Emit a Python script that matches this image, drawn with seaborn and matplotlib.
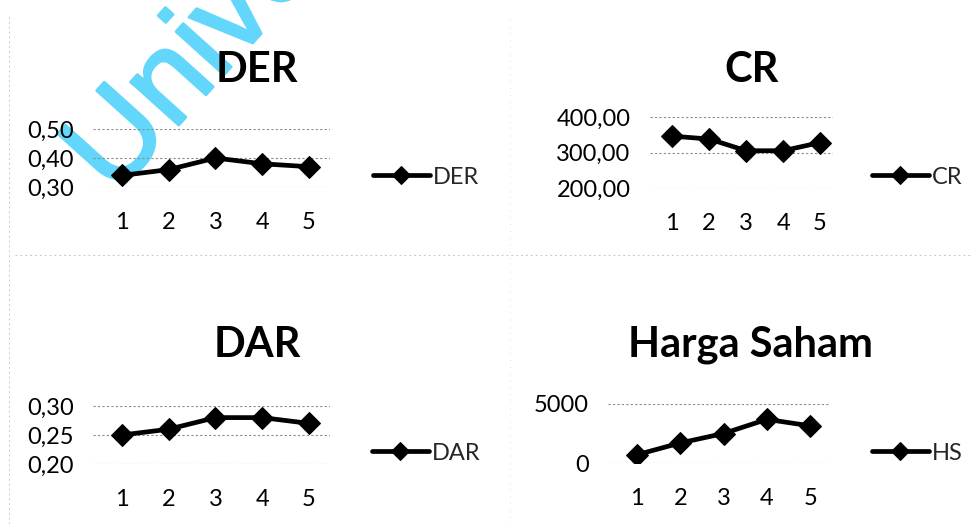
import matplotlib
matplotlib.use("Agg")
import matplotlib.pyplot as plt
import matplotlib.patheffects as pe
from matplotlib.ticker import FuncFormatter
import seaborn as sns
import pandas as pd

sns.set_theme(style="white")
plt.rcParams["font.family"] = ["Lato", "DejaVu Sans"]

# data per periode
periode = [1, 2, 3, 4, 5]
der = [0.34, 0.36, 0.40, 0.38, 0.37]
cr = [346, 338, 305, 305, 328]
dar = [0.25, 0.26, 0.28, 0.28, 0.27]
hs = [700, 1700, 2500, 3700, 3150]

W, H = 973, 524
fig = plt.figure(figsize=(W / 100, H / 100), dpi=100)
fig.patch.set_facecolor("white")


def px_axes(x0, x1, ytop, ybot):
    return fig.add_axes([x0 / W, 1 - ybot / H, (x1 - x0) / W, (ybot - ytop) / H])


def comma(nd):
    if nd == 0:
        return FuncFormatter(lambda v, p: f"{v:.0f}")
    return FuncFormatter(lambda v, p: f"{v:.{nd}f}".replace(".", ","))


panels = [
    # title, legend label, values, yticks, decimals, axes px box, xlim, title pos, legend pos
    ("DER", "DER", der, [0.30, 0.40, 0.50], 2, (93, 330, 129, 187), (0.38, 5.45), (257, 82), (373, 177)),
    ("CR", "CR", cr, [200, 300, 400], 2, (650, 833, 117, 188), (0.40, 5.35), (752, 82), (872, 177)),
    ("DAR", "DAR", dar, [0.20, 0.25, 0.30], 2, (93, 330, 406, 464), (0.38, 5.45), (257, 357), (372, 453)),
    ("Harga Saham", "HS", hs, [0, 5000], 0, (608, 830, 404, 463), (0.33, 5.46), (751, 357), (872, 453)),
]

for title, lab, vals, yt, nd, box, xl, tpos, lpos in panels:
    ax = px_axes(*box)
    ax.set_facecolor("none")
    df = pd.DataFrame({"periode": periode, "nilai": vals})
    sns.lineplot(data=df, x="periode", y="nilai", ax=ax, color="black",
                 marker="D", markersize=11, markeredgecolor="black",
                 linewidth=3.4, label=lab)
    ax.set_xlim(*xl)
    ax.set_ylim(yt[0], yt[-1])
    ax.set_yticks(yt)
    ax.set_xticks(periode)
    ax.yaxis.set_major_formatter(comma(nd))
    ax.set_xlabel("")
    ax.set_ylabel("")
    for s in ax.spines.values():
        s.set_visible(False)
    ax.grid(axis="y", color="#8a8a8a", linestyle=(0, (2, 2)), linewidth=0.8)
    ax.grid(axis="x", visible=False)
    ax.tick_params(axis="y", length=0, pad=14, labelsize=17, labelcolor="black")
    ax.tick_params(axis="x", length=0, pad=18, labelsize=17, labelcolor="black")
    leg = ax.legend(loc="center left", bbox_to_anchor=(lpos[0] / W, 1 - lpos[1] / H),
                    bbox_transform=fig.transFigure, frameon=False, fontsize=17,
                    handlelength=2.4, handletextpad=0.15, borderpad=0, borderaxespad=0)
    for h in leg.get_lines():
        h.set_markersize(9)
    fig.text(tpos[0] / W, 1 - tpos[1] / H, title, ha="center", va="baseline",
             fontsize=30, fontweight="bold", color="black")

# faint panel borders
sep = dict(color="#c8c8c8", linestyle=(0, (2, 3)), linewidth=0.7)
fig.add_artist(plt.Line2D([15 / W, 1], [1 - 255 / H] * 2, **sep))
fig.add_artist(plt.Line2D([9 / W] * 2, [0, 1 - 15 / H], **sep))
fig.add_artist(plt.Line2D([510 / W] * 2, [0, 1 - 15 / H], color="#dddddd",
                          linestyle=(0, (1, 6)), linewidth=0.7))

# repository watermark
wm_color = "#62d6fb"
fig.text(114 / W, 1 - 197 / H, "Universitas", rotation=48,
         rotation_mode="anchor", ha="left", va="baseline", fontsize=88,
         family="Liberation Sans", color=wm_color, zorder=-1,
         path_effects=[pe.withStroke(linewidth=2, foreground=wm_color)])

fig.savefig("out.png", dpi=100, facecolor="white")
